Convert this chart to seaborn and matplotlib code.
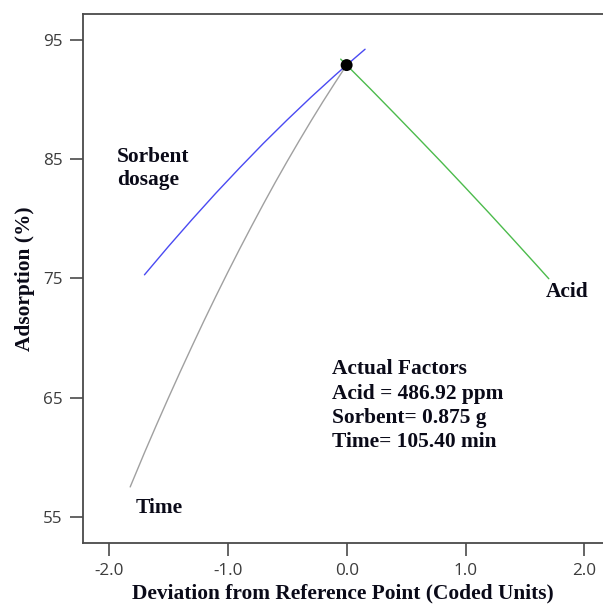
import matplotlib
matplotlib.use("Agg")
import matplotlib.pyplot as plt
import seaborn as sns
import pandas as pd

# Perturbation curves: deviation from the reference point (coded units) vs adsorption (%)
sorbent_x = [-1.70, -1.50, -1.30, -1.10, -0.90, -0.70, -0.50, -0.30, -0.10, 0.00, 0.155]
sorbent_y = [75.3, 77.66, 79.94, 82.15, 84.27, 86.33, 88.30, 90.20, 92.02, 92.9, 94.23]

time_x = [-1.82, -1.70, -1.60, -1.50, -1.40, -1.30, -1.20, -1.10, -1.00, -0.90,
          -0.80, -0.70, -0.60, -0.50, -0.40, -0.30, -0.20, -0.10, 0.00]
time_y = [57.5, 60.37, 62.68, 64.94, 67.15, 69.31, 71.43, 73.49, 75.50, 77.46,
          79.37, 81.24, 83.06, 84.82, 86.53, 88.20, 89.82, 91.38, 92.9]

acid_x = [-0.05, 0.00, 0.20, 0.40, 0.60, 0.80, 1.00, 1.20, 1.40, 1.60, 1.70]
acid_y = [93.4, 92.9, 90.90, 88.86, 86.80, 84.72, 82.60, 80.46, 78.28, 76.08, 74.97]

ref_x = [0.0]
ref_y = [92.9]

x_ticks = [-2.0, -1.0, 0.0, 1.0, 2.0]
y_ticks = [55, 65, 75, 85, 95]

factor_colors = {"Sorbent dosage": "#4a4af2", "Time": "#a0a0a0", "Acid": "#4cbb4c"}

df = pd.concat([
    pd.DataFrame({"dev": sorbent_x, "ads": sorbent_y, "factor": "Sorbent dosage"}),
    pd.DataFrame({"dev": time_x, "ads": time_y, "factor": "Time"}),
    pd.DataFrame({"dev": acid_x, "ads": acid_y, "factor": "Acid"}),
], ignore_index=True)

sns.set_style("ticks")
plt.rcParams["font.family"] = ["Open Sans", "DejaVu Sans"]

fig = plt.figure(figsize=(6.03, 6.04), dpi=100)
# the plotting frame runs past the right edge of the canvas
ax = fig.add_axes([0.137, 0.1015, 0.8828, 0.8748])

sns.lineplot(data=df, x="dev", y="ads", hue="factor", palette=factor_colors,
             sort=False, estimator=None, linewidth=1.0, legend=False, ax=ax)
ax.scatter(ref_x, ref_y, s=74, color="black", zorder=5, edgecolors="none")

ax.set_xlim(-2.22, 2.256)
ax.set_ylim(52.82, 97.16)
ax.set_xticks(x_ticks)
ax.set_xticklabels([f"{v:.1f}" for v in x_ticks])
ax.set_yticks(y_ticks)

spine_col = "#4a4a4a"
for side in ["left", "bottom", "top"]:
    ax.spines[side].set_color(spine_col)
    ax.spines[side].set_linewidth(1.3)
ax.spines["right"].set_visible(False)
ax.tick_params(axis="both", direction="out", length=9.5, width=1.2,
               color=spine_col, labelcolor="#3c3c3c", labelsize=12.3, pad=5)

serif = dict(family=["Liberation Serif", "DejaVu Serif"], weight="bold",
             size=15.4, color="#0a0a18")
ax.set_xlabel("Deviation from Reference Point (Coded Units)", **serif)
ax.xaxis.set_label_coords(0.489, -0.077)
ax.set_ylabel("Adsorption (%)", labelpad=6, **serif)

ax.text(-1.93, 84.79, "Sorbent", ha="left", va="baseline", **serif)
ax.text(-1.93, 82.85, "dosage", ha="left", va="baseline", **serif)
ax.text(-1.772, 55.29, "Time", ha="left", va="baseline", **serif)
ax.text(1.676, 73.41, "Acid", ha="left", va="baseline", **serif)

factors_text = ["Actual Factors", "Acid = 486.92 ppm", "Sorbent= 0.875 g", "Time= 105.40 min"]
factors_y = [66.95, 64.86, 62.84, 60.83]
for t, yv in zip(factors_text, factors_y):
    ax.text(-0.12, yv, t, ha="left", va="baseline", **serif)

fig.savefig("out.png", dpi=100)
